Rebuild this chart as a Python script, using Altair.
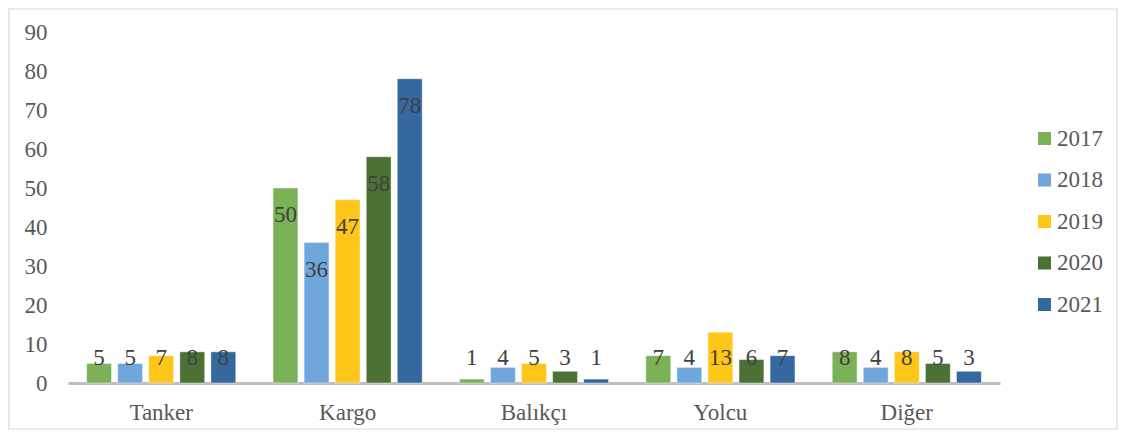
import altair as alt
import pandas as pd

categories = ["Tanker", "Kargo", "Balıkçı", "Yolcu", "Diğer"]
years = ["2017", "2018", "2019", "2020", "2021"]
values = {
    "2017": [5, 50, 1, 7, 8],
    "2018": [5, 36, 4, 4, 4],
    "2019": [7, 47, 5, 13, 8],
    "2020": [8, 58, 3, 6, 5],
    "2021": [8, 78, 1, 7, 3],
}
colors = ["#7CB257", "#6FA7DC", "#FFC61A", "#4B7234", "#34689F"]
y_ticks = [0, 10, 20, 30, 40, 50, 60, 70, 80, 90]

rows = []
for y in years:
    for c, v in zip(categories, values[y]):
        rows.append({"Kategori": c, "Yıl": y, "Değer": v})
df = pd.DataFrame(rows)

FONT = "Liberation Serif"
W, H = 932, 351

y_axis = alt.Axis(title=None, values=y_ticks, grid=False, domain=False, ticks=False,
                  labelFont=FONT, labelFontSize=23, labelColor="#595959",
                  labelPadding=21, labelOverlap=False, labelFlush=False)
y_scale = alt.Scale(domain=[0, 90], nice=False)

base = alt.Chart(df).encode(
    x=alt.X("Kategori:N", sort=categories,
            scale=alt.Scale(paddingInner=0, paddingOuter=0),
            axis=alt.Axis(title=None, labelAngle=0, labelFont=FONT, labelFontSize=23,
                          labelColor="#595959", labelPadding=18, ticks=False,
                          domainColor="#BFBFBF", domainWidth=3)),
    xOffset=alt.XOffset("Yıl:N", sort=years,
                        scale=alt.Scale(paddingInner=0.2, paddingOuter=0.6)),
)

bars = base.mark_bar(stroke="#ffffff", strokeOpacity=0.5, strokeWidth=0.8).encode(
    y=alt.Y("Değer:Q", scale=y_scale, axis=y_axis),
    color=alt.Color("Yıl:N", sort=years,
                    scale=alt.Scale(domain=years, range=colors),
                    legend=alt.Legend(title=None, orient="none", legendX=965, legendY=95,
                                      symbolType="square", symbolSize=170,
                                      symbolStrokeWidth=0, labelFont=FONT,
                                      labelFontSize=23, labelColor="#595959",
                                      labelOffset=1, rowPadding=17.5, padding=0)),
)

labels = base.transform_calculate(
    ly="max(datum['Değer'] - 6.9, 6.4)"
).mark_text(font=FONT, fontSize=23, color="#404040", baseline="middle").encode(
    y=alt.Y("ly:Q", scale=y_scale, axis=y_axis),
    text=alt.Text("Değer:Q"),
)

border = alt.Chart(pd.DataFrame({"k": [0]})).mark_rect(
    fill=None, stroke="#D9D9D9", strokeWidth=1.2
).encode(
    x=alt.value(-59), x2=alt.value(1049), y=alt.value(-23), y2=alt.value(397)
)

chart = alt.layer(border, bars, labels).properties(
    width=W, height=H,
    padding={"left": 60, "top": 24, "right": 118, "bottom": 48},
    autosize=alt.AutoSizeParams(type="none"),
).configure_view(stroke=None)

chart.save("out.html", embed_options={"renderer": "svg", "actions": False})
